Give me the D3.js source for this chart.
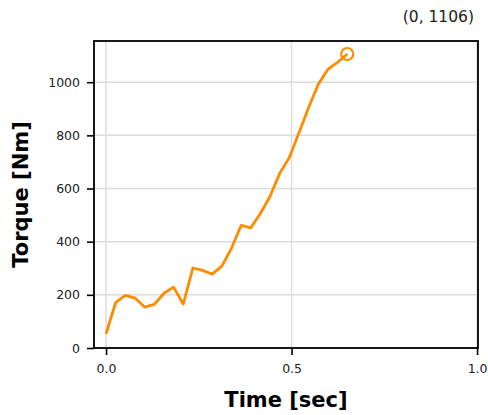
<!DOCTYPE html>
<html><head><meta charset="utf-8">
<script src="https://cdn.jsdelivr.net/npm/d3@7"></script>
<style>body{margin:0;background:#fff}svg{display:block}text{font-family:"DejaVu Sans",sans-serif}</style>
</head><body>
<script>
const times = [0,0.026,0.052,0.078,0.104,0.13,0.156,0.182,0.208,0.234,0.26,0.286,0.312,0.338,0.364,0.39,0.416,0.442,0.468,0.494,0.52,0.546,0.572,0.598,0.624,0.65];
const torque = [53,172,198,188,154,164,206,229,165,301,292,278,308,375,461,452,506,571,657,717,810,905,992,1049,1075,1106];
const xTicks = [0,0.5,1.0];
const yTicks = [0,200,400,600,800,1000];
const annotation = "(0, 1106)";

const W=488,H=415;
const m={l:94,r:478,t:41,b:348};
const svg=d3.select("body").append("svg").attr("width",W).attr("height",H);
const x=d3.scaleLinear().domain([-0.0325,1.0025]).range([m.l,m.r]);
const y=d3.scaleLinear().domain([0,1155]).range([m.b,m.t]);

// grid
svg.append("g").selectAll("line").data(yTicks).join("line")
  .attr("x1",m.l).attr("x2",m.r).attr("y1",d=>y(d)).attr("y2",d=>y(d))
  .attr("stroke","#dcdcdc").attr("stroke-width",1.5);
svg.append("g").selectAll("line").data(xTicks).join("line")
  .attr("x1",d=>x(d)).attr("x2",d=>x(d)).attr("y1",m.t).attr("y2",m.b)
  .attr("stroke","#dcdcdc").attr("stroke-width",1.5);

// axes
const xa=svg.append("g").attr("transform",`translate(0,${m.b})`)
  .call(d3.axisBottom(x).tickValues(xTicks).tickFormat(d3.format(".1f")).tickSize(7).tickPadding(9));
const ya=svg.append("g").attr("transform",`translate(${m.l},0)`)
  .call(d3.axisLeft(y).tickValues(yTicks).tickFormat(d3.format("d")).tickSize(7).tickPadding(7));
[xa,ya].forEach(g=>{
  g.select(".domain").remove();
  g.selectAll(".tick line").attr("stroke","#000").attr("stroke-width",1.6);
  g.selectAll(".tick text").attr("font-size",12.5).attr("fill","#222").attr("font-family","DejaVu Sans");
});

// line
svg.append("path").datum(times.map((t,i)=>[t,torque[i]]))
  .attr("fill","none").attr("stroke","#ff8c00").attr("stroke-width",2.8).attr("stroke-linejoin","round")
  .attr("d",d3.line().x(d=>x(d[0])).y(d=>y(d[1])));
const last=times.length-1;
svg.append("circle").attr("cx",x(times[last])).attr("cy",y(torque[last])).attr("r",6)
  .attr("fill","none").attr("stroke","#ff8c00").attr("stroke-width",2.2);

// frame
svg.append("rect").attr("x",m.l).attr("y",m.t).attr("width",m.r-m.l).attr("height",m.b-m.t)
  .attr("fill","none").attr("stroke","#000").attr("stroke-width",1.8);

// labels
svg.append("text").attr("x",(m.l+m.r)/2).attr("y",407).attr("text-anchor","middle")
  .attr("font-size",21).attr("font-weight","bold").text("Time [sec]");
svg.append("text").attr("transform",`translate(28,${(m.t+m.b)/2}) rotate(-90)`).attr("text-anchor","middle")
  .attr("font-size",21).attr("font-weight","bold").text("Torque [Nm]");
svg.append("text").attr("x",474).attr("y",22).attr("text-anchor","end")
  .attr("font-size",15.5).attr("fill","#222").text(annotation);
</script>
</body></html>
